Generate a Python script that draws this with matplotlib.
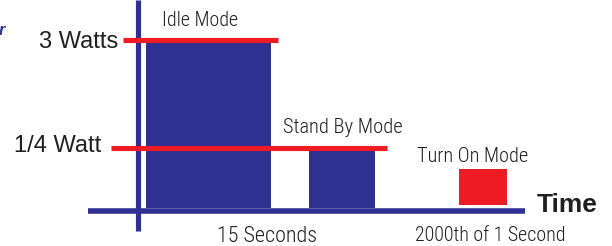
import matplotlib
matplotlib.use("Agg")
import matplotlib.pyplot as plt
from matplotlib import font_manager as fm

# ---- data (schematic levels, baseline = 0) ----
modes = ["Idle Mode", "Stand By Mode", "Turn On Mode"]
bar_heights = [166, 57, 36]
bar_bottoms = [0, 0, 3]
power_labels = ["3 Watts", "1/4 Watt"]
power_levels = [168, 60]
time_labels = ["15 Seconds", "2000th of 1 Second"]
axis_title = "Time"

# ---- layout ----
bar_x = [208.5, 342, 483]
bar_w = [125, 66, 48]
bar_colors = ["#2E3192", "#2E3192", "#ED1C24"]
level_x = [(123, 278), (111, 387)]
NAVY = "#2E3192"
RED = "#ED1C24"
TXT = "#231F20"

names = {f.name for f in fm.fontManager.ttflist}
narrow_family = "Liberation Sans"
narrow_weight = 400
for cand in ["Roboto Condensed", "Barlow Semi Condensed", "Encode Sans Condensed",
             "PT Sans Narrow"]:
    if cand in names:
        narrow_family = cand
        narrow_weight = 300
        break

fig = plt.figure(figsize=(6.12, 2.46), dpi=100)
ax = fig.add_axes([0, 0, 1, 1])
ax.set_xlim(0, 612)
ax.set_ylim(-38, 208)
ax.axis("off")

ax.bar(bar_x, bar_heights, width=bar_w, bottom=bar_bottoms, color=bar_colors,
       edgecolor="none", zorder=2)

# axes lines
ax.plot([137.5, 137.5], [208, -23], color=NAVY, lw=3.7, solid_capstyle="butt", zorder=3)
ax.plot([88, 525], [-2.5, -2.5], color=NAVY, lw=4.0, solid_capstyle="butt", zorder=3)

# power levels
for (x0, x1), lvl in zip(level_x, power_levels):
    ax.plot([x0, x1], [lvl, lvl], color=RED, lw=3.7, solid_capstyle="butt", zorder=4)

ax.text(118, 159.5, power_labels[0], ha="right", va="baseline", fontsize=17,
        family="Liberation Sans", color=TXT)
ax.text(101, 56, power_labels[1], ha="right", va="baseline", fontsize=17,
        family="Liberation Sans", color=TXT)

renderer = fig.canvas.get_renderer()

def fit_text(x, y, s, target_w, size0):
    t = ax.text(x, y, s, ha="left", va="baseline", fontsize=size0,
                family=narrow_family, weight=narrow_weight, color=TXT)
    w = t.get_window_extent(renderer).width
    t.set_fontsize(size0 * target_w / w)
    return t

mode_pos = [(162, 182, 76), (283, 75, 120), (417, 46, 111)]
for m, (x, y, w) in zip(modes, mode_pos):
    fit_text(x, y, m, w, 15.5)

fit_text(217, -34, time_labels[0], 101, 17)
fit_text(415, -33, time_labels[1], 151, 14.5)

ax.text(537, -4, axis_title, ha="left", va="baseline", fontsize=19, fontweight="bold",
        family="Liberation Sans", color=TXT)

ax.text(-1, 173, "r", ha="left", va="baseline", fontsize=12, fontweight="bold",
        fontstyle="italic", family="Liberation Sans", color=NAVY)

fig.savefig("out.png", dpi=100)
